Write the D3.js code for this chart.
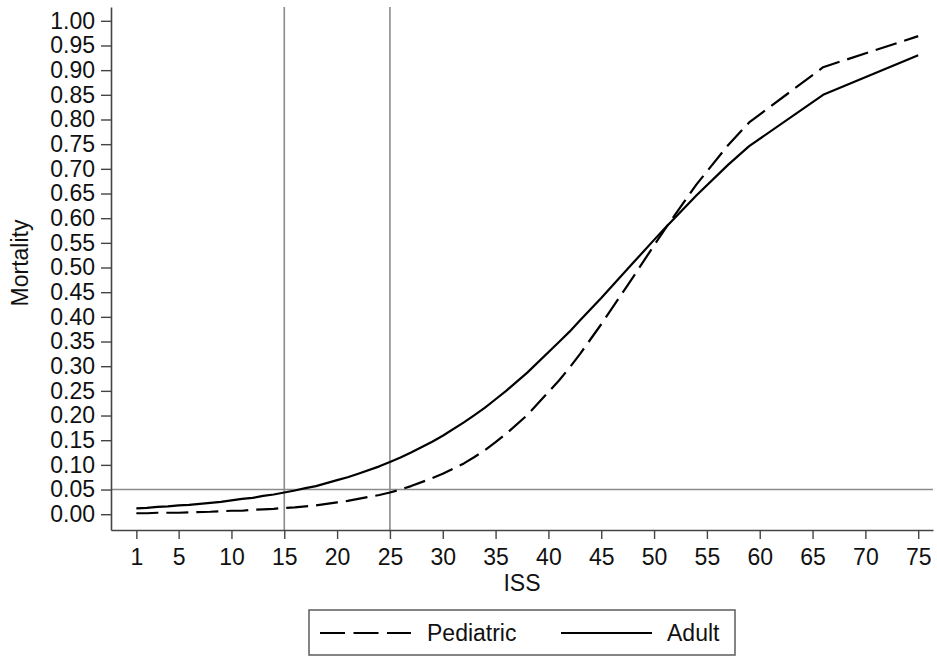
<!DOCTYPE html>
<html>
<head>
<meta charset="utf-8">
<script src="https://cdn.jsdelivr.net/npm/d3@7"></script>
<style>
  body { margin: 0; background: #fff; }
  text { font-family: "Liberation Sans", Arial, sans-serif; fill: #111; }
</style>
</head>
<body>
<div id="chart"></div>
<script>
var svgWidth = 937;
var svgHeight = 657;

var margin = {
  top: 7,
  right: 4,
  bottom: 127,
  left: 111
};

var width = svgWidth - margin.left - margin.right;
var height = svgHeight - margin.top - margin.bottom;

// ISS values where the curves are evaluated (attainable ISS scores)
var iss = [1, 2, 3, 4, 5, 6, 8, 9, 10, 11, 12, 13, 14, 16, 17, 18, 19, 20, 21, 22,
  24, 25, 26, 27, 29, 30, 32, 33, 34, 35, 36, 38, 41, 42, 43, 45, 48, 50, 51,
  54, 57, 59, 66, 75];

var pediatric = [0.002, 0.002, 0.003, 0.003, 0.003, 0.004, 0.005, 0.006, 0.007,
  0.007, 0.009, 0.010, 0.011, 0.014, 0.016, 0.018, 0.021, 0.024, 0.027, 0.031,
  0.039, 0.044, 0.050, 0.057, 0.073, 0.082, 0.103, 0.116, 0.130, 0.146, 0.163,
  0.201, 0.271, 0.297, 0.325, 0.385, 0.480, 0.545, 0.577, 0.668, 0.748, 0.794,
  0.906, 0.969];

var adult = [0.012, 0.013, 0.015, 0.016, 0.018, 0.019, 0.023, 0.025, 0.028,
  0.031, 0.033, 0.037, 0.040, 0.048, 0.053, 0.057, 0.063, 0.069, 0.075, 0.082,
  0.097, 0.106, 0.115, 0.125, 0.147, 0.159, 0.186, 0.201, 0.216, 0.233, 0.250,
  0.287, 0.349, 0.370, 0.393, 0.438, 0.509, 0.556, 0.579, 0.646, 0.708, 0.746,
  0.850, 0.930];

var xTicks = [1, 5, 10, 15, 20, 25, 30, 35, 40, 45, 50, 55, 60, 65, 70, 75];
var yTicks = [0, 0.05, 0.10, 0.15, 0.20, 0.25, 0.30, 0.35, 0.40, 0.45, 0.50,
  0.55, 0.60, 0.65, 0.70, 0.75, 0.80, 0.85, 0.90, 0.95, 1.00];

// reference lines
var refX = [15, 25];
var refY = [0.05];

var series = [
  { name: "Pediatric", values: pediatric, dash: "22,8" },
  { name: "Adult", values: adult, dash: null }
];

var svg = d3
  .select("#chart")
  .append("svg")
  .attr("width", svgWidth)
  .attr("height", svgHeight);

var chartGroup = svg.append("g")
  .attr("transform", `translate(${margin.left}, ${margin.top})`);

var xLinearScale = d3.scaleLinear()
  .domain([-1.4, 76.4])
  .range([0, width]);

var yLinearScale = d3.scaleLinear()
  .domain([-0.032, 1.028])
  .range([height, 0]);

// reference lines
chartGroup.selectAll(".refx")
  .data(refX)
  .enter()
  .append("line")
  .attr("class", "refx")
  .attr("x1", d => xLinearScale(d))
  .attr("x2", d => xLinearScale(d))
  .attr("y1", 0)
  .attr("y2", height)
  .attr("stroke", "#8c8c8c")
  .attr("stroke-width", 1.6);

chartGroup.selectAll(".refy")
  .data(refY)
  .enter()
  .append("line")
  .attr("class", "refy")
  .attr("x1", 0)
  .attr("x2", width)
  .attr("y1", d => yLinearScale(d))
  .attr("y2", d => yLinearScale(d))
  .attr("stroke", "#8c8c8c")
  .attr("stroke-width", 1.6);

// axes
var bottomAxis = d3.axisBottom(xLinearScale)
  .tickValues(xTicks)
  .tickSize(9)
  .tickSizeOuter(0)
  .tickPadding(10)
  .tickFormat(d3.format("d"));

var leftAxis = d3.axisLeft(yLinearScale)
  .tickValues(yTicks)
  .tickSize(10)
  .tickSizeOuter(0)
  .tickPadding(6)
  .tickFormat(d3.format(".2f"));

var xAxis = chartGroup.append("g")
  .attr("transform", `translate(0, ${height})`)
  .call(bottomAxis);

var yAxis = chartGroup.append("g")
  .call(leftAxis);

[xAxis, yAxis].forEach(function(ax) {
  ax.attr("font-family", null).attr("font-size", null);
  ax.select(".domain").attr("stroke", "#444").attr("stroke-width", 1.6);
  ax.selectAll(".tick line").attr("stroke", "#444").attr("stroke-width", 1.4);
  ax.selectAll(".tick text")
    .attr("fill", "#111")
    .style("font-size", "23px");
});

// curves
var line = d3.line()
  .x((d, i) => xLinearScale(iss[i]))
  .y(d => yLinearScale(d));

chartGroup.selectAll(".curve")
  .data(series)
  .enter()
  .append("path")
  .attr("class", "curve")
  .attr("d", d => line(d.values))
  .attr("fill", "none")
  .attr("stroke", "#000")
  .attr("stroke-width", 2.2)
  .attr("stroke-linejoin", "round")
  .attr("stroke-dasharray", d => d.dash);

// axis titles
svg.append("text")
  .attr("x", margin.left + width / 2)
  .attr("y", 591)
  .attr("text-anchor", "middle")
  .style("font-size", "23px")
  .text("ISS");

svg.append("text")
  .attr("transform", "translate(28, 263) rotate(-90)")
  .attr("text-anchor", "middle")
  .style("font-size", "23px")
  .text("Mortality");

// legend
var legend = svg.append("g");

legend.append("rect")
  .attr("x", 309)
  .attr("y", 610)
  .attr("width", 426)
  .attr("height", 45)
  .attr("fill", "#fff")
  .attr("stroke", "#666")
  .attr("stroke-width", 1.6);

var legendItems = [
  { x: 320, tx: 427 },
  { x: 561, tx: 667 }
];

series.forEach(function(s, i) {
  var item = legendItems[i];
  legend.append("line")
    .attr("x1", item.x)
    .attr("x2", item.x + 91)
    .attr("y1", 633)
    .attr("y2", 633)
    .attr("stroke", "#000")
    .attr("stroke-width", 2.2)
    .attr("stroke-dasharray", s.dash ? "25,8.5" : null);
  legend.append("text")
    .attr("x", item.tx)
    .attr("y", 641)
    .style("font-size", "23px")
    .text(s.name);
});
</script>
</body>
</html>
